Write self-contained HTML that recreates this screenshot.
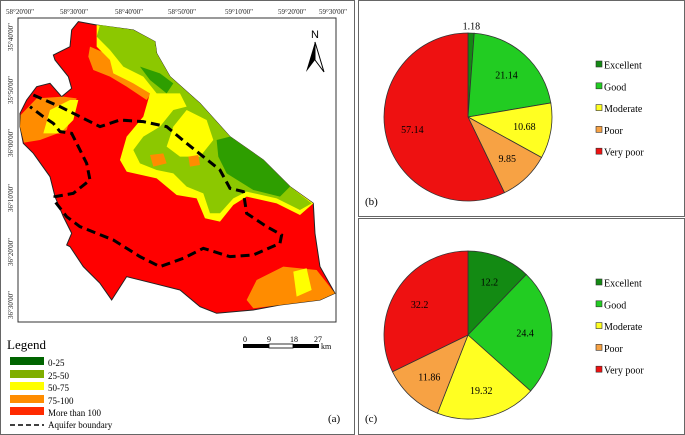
<!DOCTYPE html>
<html><head><meta charset="utf-8"><style>
body{margin:0;background:#fff;width:685px;height:435px;overflow:hidden;font-family:"Liberation Serif",serif}
svg{display:block}
</style></head><body>
<svg width="685" height="435" viewBox="0 0 685 435" xmlns="http://www.w3.org/2000/svg">
<g>
<rect x="0.5" y="0.5" width="354" height="434" fill="#fff" stroke="#666"/>
<rect x="18" y="18" width="318" height="304" fill="#fff" stroke="#333"/>
<g transform="scale(0.3333)">
<path fill="#ff0000" stroke="#222" stroke-width="3" d="M235,65 L290,75 L400,90 L465,125 L470,160 L510,230 L600,310 L690,410 L790,480 L870,560 L940,610 L945,700 L960,800 L1005,880 L960,900 L840,915 L760,930 L650,940 L600,920 L540,870 L460,850 L380,830 L335,900 L300,850 L250,800 L210,740 L200,735 L215,700 L190,650 L165,590 L150,530 L100,460 L70,430 L60,380 L60,340 L80,300 L110,260 L150,250 L185,290 L215,265 L205,230 L165,180 L160,165 L210,140 L215,90 Z"/>
<path fill="#ff8c00" d="M270,140 L340,170 L380,200 L430,240 L460,270 L440,300 L380,260 L330,230 L280,210 L265,170 Z"/>
<path fill="#ffff00" d="M290,75 L400,90 L465,125 L470,160 L510,230 L600,310 L690,410 L790,480 L870,560 L940,610 L900,645 L830,610 L740,590 L700,615 L660,665 L615,655 L590,595 L530,585 L470,535 L380,515 L360,480 L380,410 L430,350 L450,280 L400,250 L340,220 L330,180 L290,140 Z"/>
<path fill="#8cc800" d="M300,75 L400,90 L465,125 L470,160 L510,230 L600,310 L690,410 L790,480 L870,560 L935,610 L900,630 L830,595 L740,575 L700,595 L660,640 L630,640 L610,580 L560,560 L520,520 L470,510 L420,490 L400,450 L430,410 L480,380 L520,330 L560,320 L540,280 L470,280 L430,230 L370,200 L330,150 L290,110 Z"/>
<path fill="#ffff00" d="M560,330 L620,360 L640,420 L600,470 L540,470 L500,440 L520,380 Z"/>
<path fill="#2e9e00" d="M650,420 L690,410 L790,480 L870,560 L840,590 L760,570 L680,520 L655,470 Z M420,200 L480,220 L520,250 L500,280 L450,240 Z"/>
<path fill="#ff8c00" d="M450,465 L490,460 L500,490 L460,500 Z M565,470 L595,465 L600,495 L570,500 Z"/>
<path fill="#ff8c00" d="M62,345 L110,295 L190,290 L230,295 L200,390 L120,420 L72,428 L60,380 Z"/>
<path fill="#ffff00" d="M150,330 L210,300 L235,300 L220,360 L180,400 L130,400 Z"/>
<path fill="#ff8c00" d="M740,900 L770,840 L850,800 L950,810 L1005,880 L960,900 L840,915 L760,925 Z"/>
<path fill="#ffff00" d="M880,815 L920,805 L935,870 L890,890 Z"/>
<path fill="none" stroke="#000" stroke-width="9" stroke-dasharray="27,15" d="M100,285 L180,320 L300,380 L360,360 L430,365 L500,380 L560,430 L610,470 L660,510 L690,565 L730,575 L740,640 L800,680 L845,705 L840,730 L760,765 L690,770 L610,745 L550,775 L480,800 L420,770 L340,720 L240,680 L200,650 L165,605 L165,590 L220,580 L270,540 L260,490 L230,430 L215,400 L180,395 L160,370 L130,350 L90,320"/>
</g>
<g font-size="7" fill="#222" text-anchor="middle">
<text x="20" y="14">58°20'00"</text><text x="74" y="14">58°30'00"</text><text x="129" y="14">58°40'00"</text><text x="182" y="14">58°50'00"</text><text x="239" y="14">59°10'00"</text><text x="292" y="14">59°20'00"</text><text x="333" y="14">59°30'00"</text>
</g>
<g font-size="7" fill="#222" text-anchor="middle">
<text transform="translate(13,37) rotate(-90)">35°40'00"</text><text transform="translate(13,90) rotate(-90)">35°50'00"</text><text transform="translate(13,143) rotate(-90)">36°00'00"</text><text transform="translate(13,198) rotate(-90)">36°10'00"</text><text transform="translate(13,252) rotate(-90)">36°20'00"</text><text transform="translate(13,305) rotate(-90)">36°30'00"</text>
</g>
<g>
<text x="315" y="38" font-family="Liberation Sans,sans-serif" font-size="11" text-anchor="middle">N</text>
<path d="M315,42 L306,72 L315,60 Z" fill="#000"/><path d="M315,42 L324,72 L315,60 Z" fill="#fff" stroke="#000"/>
</g>
<g font-size="8">
<rect x="243" y="344" width="26" height="4" fill="#000"/><rect x="269" y="344" width="24" height="4" fill="#fff" stroke="#000" stroke-width="0.8"/><rect x="293" y="344" width="26" height="4" fill="#000"/>
<text x="245" y="342" text-anchor="middle">0</text><text x="269" y="342" text-anchor="middle">9</text><text x="294" y="342" text-anchor="middle">18</text><text x="318" y="342" text-anchor="middle">27</text><text x="321" y="349">km</text>
</g>
<g font-size="9">
<text x="7" y="349" font-size="13">Legend</text>
<rect x="10" y="357" width="34" height="8" fill="#006400"/><text x="48" y="366">0-25</text>
<rect x="10" y="370" width="34" height="8" fill="#7fae00"/><text x="48" y="379">25-50</text>
<rect x="10" y="382" width="34" height="8" fill="#ffff00"/><text x="48" y="391">50-75</text>
<rect x="10" y="395" width="34" height="8" fill="#ff8c00"/><text x="48" y="404">75-100</text>
<rect x="10" y="407" width="34" height="8" fill="#ff2a00"/><text x="48" y="416">More than 100</text>
<line x1="10" y1="425" x2="44" y2="425" stroke="#000" stroke-width="1.5" stroke-dasharray="5,3"/><text x="48" y="428">Aquifer boundary</text>
</g>
<text x="328" y="422" font-size="11">(a)</text>
</g>
<rect x="358.5" y="0.5" width="326" height="216" fill="none" stroke="#666"/>
<rect x="358.5" y="218.5" width="326" height="216" fill="none" stroke="#666"/>
<text x="365" y="205" font-size="11">(b)</text>
<text x="365" y="422" font-size="11">(c)</text>
<g id="pies"></g>
</svg>
<script>
const categories = ["Excellent","Good","Moderate","Poor","Very poor"];
const colors = ["#138a13","#22cc22","#ffff22","#f7a244","#ee1111"];
const valuesB = [1.18,21.14,10.68,9.85,57.14];
const valuesC = [12.2,24.4,19.32,11.86,32.2];
const NS="http://www.w3.org/2000/svg";
const root=document.getElementById('pies');
function mk(t,a){const e=document.createElementNS(NS,t);for(const k in a)e.setAttribute(k,a[k]);return e;}
function pie(vals,cx,cy,r,name,legendY){
  const g=mk('g',{});
  
  
  root.appendChild(g);
  const tot=vals.reduce((a,b)=>a+b,0);let a0=0;
  vals.forEach((v,i)=>{
    const a1=a0+v/tot*2*Math.PI;
    const x0=cx+r*Math.sin(a0),y0=cy-r*Math.cos(a0),x1=cx+r*Math.sin(a1),y1=cy-r*Math.cos(a1);
    const p=mk('path',{d:`M${cx},${cy} L${x0},${y0} A${r},${r} 0 ${a1-a0>Math.PI?1:0} 1 ${x1},${y1} Z`,fill:colors[i],stroke:'#333','stroke-width':0.8});
    
    
    g.appendChild(p);
    const am=(a0+a1)/2;const lr=v<3?r+7:r*0.68;
    const t=mk('text',{x:cx+lr*Math.sin(am),y:cy-lr*Math.cos(am)+3.5,'font-size':10,'text-anchor':'middle'});
    t.textContent=String(v);
    
    
    g.appendChild(t);
    a0=a1;
  });
  categories.forEach((c,i)=>{
    const y=legendY+i*21.8;
    const s=mk('rect',{x:596,y:y-4,width:6,height:6,fill:colors[i],stroke:'#333','stroke-width':0.6});
    
    
    g.appendChild(s);
    const t=mk('text',{x:604,y:y+3.5,'font-size':10});
    t.textContent=c;
    
    
    g.appendChild(t);
  });
}
pie(valuesB,468,117,84,'pie-b',65);
pie(valuesC,468,335,84,'pie-c',283);
</script>
</body></html>
